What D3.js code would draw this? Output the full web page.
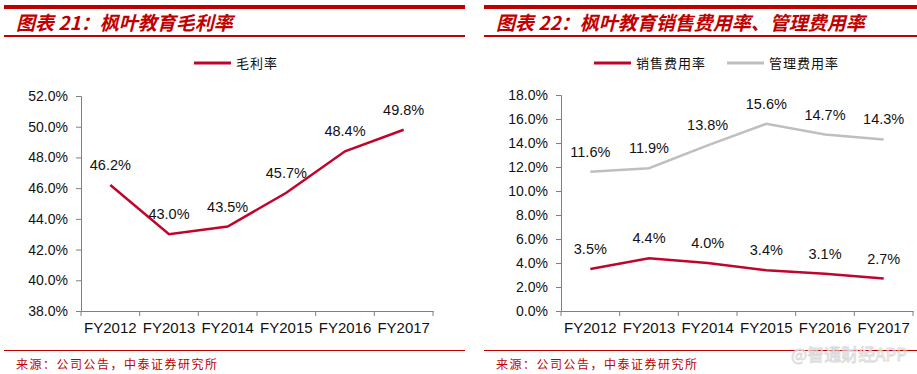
<!DOCTYPE html>
<html>
<head>
<meta charset="utf-8">
<script src="https://cdn.jsdelivr.net/npm/d3@7"></script>
<style>
  html, body { margin: 0; padding: 0; background: #fff; }
  svg { display: block; }
  .tick text { font-family: Arial, "Liberation Sans", sans-serif; fill: #111; }
</style>
</head>
<body>
<div id="chart"></div>
<script>
  'use strict';

  // data
  var years = ['FY2012', 'FY2013', 'FY2014', 'FY2015', 'FY2016', 'FY2017'];
  var grossMargin = [46.2, 43.0, 43.5, 45.7, 48.4, 49.8];
  var sellingRate = [3.5, 4.4, 4.0, 3.4, 3.1, 2.7];
  var adminRate = [11.6, 11.9, 13.8, 15.6, 14.7, 14.3];
  var leftTicks = [38, 40, 42, 44, 46, 48, 50, 52];
  var rightTicks = [0, 2, 4, 6, 8, 10, 12, 14, 16, 18];

  var W = 917, H = 374;
  var RED = '#C00000', LINE_RED = '#C0042C', GRAY = '#BFBFBF';
  var cjk = '"Noto Sans CJK SC", sans-serif';

  var svg = d3.select('#chart').append('svg')
    .attr('width', W).attr('height', H);

  // panel frame: header lines, title, footer line, source note
  function frame(x0, x1, textX, title) {
    svg.append('rect').attr('x', x0).attr('y', 5).attr('width', x1 - x0).attr('height', 4).attr('fill', RED);
    svg.append('rect').attr('x', x0).attr('y', 35).attr('width', x1 - x0).attr('height', 2).attr('fill', RED);
    svg.append('rect').attr('x', x0).attr('y', 350).attr('width', x1 - x0).attr('height', 1).attr('fill', RED);
    svg.append('text').attr('x', textX).attr('y', 30)
      .attr('font-family', cjk).attr('font-size', 19).attr('font-weight', 'bold')
      .attr('font-style', 'italic').attr('fill', RED).text(title);
    svg.append('text').attr('x', textX).attr('y', 369)
      .attr('font-family', cjk).attr('font-size', 12).attr('letter-spacing', 1.5)
      .attr('fill', RED).text('来源：公司公告，中泰证券研究所');
  }

  function legendItem(x, y, color, label) {
    svg.append('line').attr('x1', x).attr('x2', x + 37).attr('y1', y).attr('y2', y)
      .attr('stroke', color).attr('stroke-width', 3);
    svg.append('text').attr('x', x + 42).attr('y', y + 4.5)
      .attr('font-family', cjk).attr('font-size', 13).attr('letter-spacing', 1)
      .attr('fill', '#111').text(label);
  }

  function panel(opts) {
    var x = d3.scaleBand().domain(years).range([opts.x0, opts.x1]);
    var y = d3.scaleLinear().domain(opts.domain).range([311, opts.top]);
    var g = svg.append('g');

    var yAxis = d3.axisLeft(y).tickValues(opts.ticks).tickSize(5).tickPadding(8)
      .tickFormat(function(d) { return d.toFixed(1) + '%'; });
    var ya = g.append('g').attr('transform', 'translate(' + opts.x0 + ',0)').call(yAxis);
    ya.selectAll('text').attr('font-size', 14);

    var xAxis = d3.axisBottom(x).tickSize(0).tickPadding(11);
    var xa = g.append('g').attr('transform', 'translate(0,311)').call(xAxis);
    xa.selectAll('text').attr('font-size', 15).attr('dy', '0.71em');
    // tick marks at category boundaries
    var bounds = years.map(function(d) { return x(d); }).concat([opts.x1]);
    xa.selectAll('.bound').data(bounds).enter().append('line')
      .attr('class', 'bound').attr('x1', function(d) { return d; }).attr('x2', function(d) { return d; })
      .attr('y1', 0).attr('y2', 5).attr('stroke', '#808080');

    g.selectAll('.domain').attr('stroke', '#808080');
    g.selectAll('.tick line').attr('stroke', '#808080');

    opts.series.forEach(function(s) {
      var line = d3.line()
        .x(function(d, i) { return x(years[i]) + x.bandwidth() / 2; })
        .y(function(d) { return y(d); });
      g.append('path').datum(s.values).attr('d', line)
        .attr('fill', 'none').attr('stroke', s.color).attr('stroke-width', 2.5);
      g.selectAll(null).data(s.values).enter().append('text')
        .attr('x', function(d, i) { return x(years[i]) + x.bandwidth() / 2; })
        .attr('y', function(d) { return y(d) - 15; })
        .attr('text-anchor', 'middle')
        .attr('font-family', 'Arial, "Liberation Sans", sans-serif')
        .attr('font-size', 14.5).attr('fill', '#111')
        .text(function(d) { return d.toFixed(1) + '%'; });
    });
  }

  frame(4, 465, 16, '图表 21：枫叶教育毛利率');
  frame(484, 917, 496, '图表 22：枫叶教育销售费用率、管理费用率');

  legendItem(194, 63, LINE_RED, '毛利率');
  legendItem(594, 63, LINE_RED, '销售费用率');
  legendItem(727, 63, GRAY, '管理费用率');

  panel({ x0: 81, x1: 433, top: 96, domain: [38, 52], ticks: leftTicks,
    series: [{ values: grossMargin, color: LINE_RED }] });
  panel({ x0: 561, x1: 913, top: 95, domain: [0, 18], ticks: rightTicks,
    series: [{ values: adminRate, color: GRAY }, { values: sellingRate, color: LINE_RED }] });

  // watermark
  svg.append('text').attr('x', 907).attr('y', 361).attr('text-anchor', 'end')
    .attr('font-family', cjk).attr('font-size', 17)
    .attr('fill', 'none').attr('stroke', '#d8d8d8').attr('stroke-width', 0.8)
    .text('@智通财经APP');
</script>
</body>
</html>
